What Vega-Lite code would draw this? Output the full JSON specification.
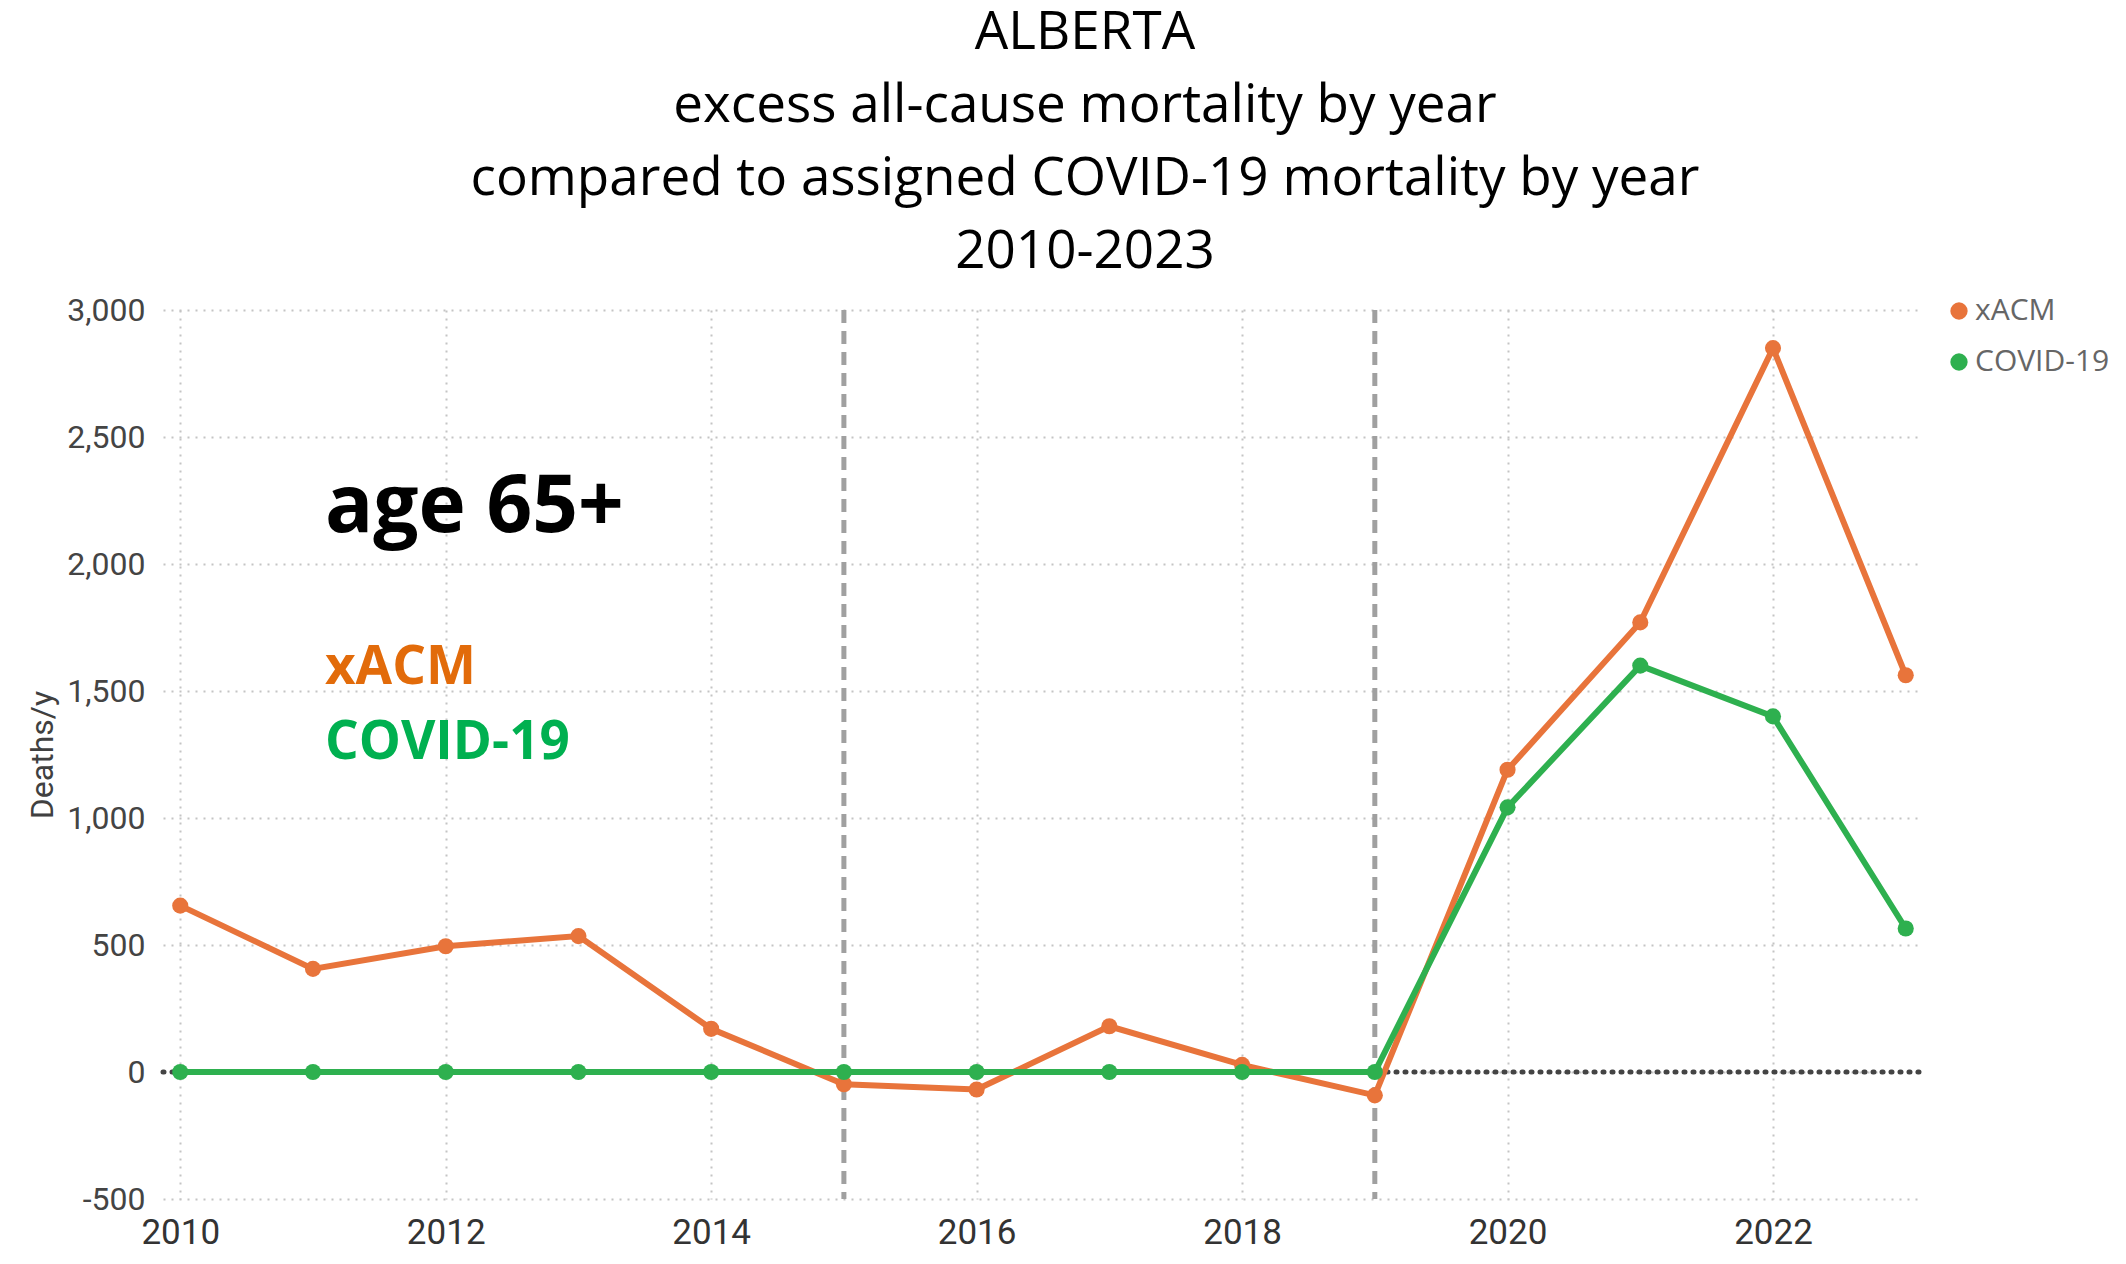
{
  "$schema": "https://vega.github.io/schema/vega-lite/v6.json",
  "description": "Alberta, age 65+: excess all-cause mortality vs assigned COVID-19 mortality by year.",
  "width": 1756,
  "height": 889,
  "autosize": {"type": "none"},
  "padding": {"left": 163, "top": 310, "right": 207, "bottom": 65},
  "background": "white",
  "title": {
    "text": ["ALBERTA", "excess all-cause mortality by year", "compared to assigned COVID-19 mortality by year", "2010-2023"],
    "font": "Open Sans",
    "fontSize": 53,
    "fontWeight": "normal",
    "color": "black",
    "lineHeight": 73,
    "anchor": "middle",
    "dx": 44,
    "offset": 15
  },
  "config": {
    "view": {"stroke": null},
    "axis": {
      "domain": false,
      "ticks": false,
      "grid": true,
      "gridColor": "#c4c4c4",
      "gridDash": [2, 6],
      "gridWidth": 2
    }
  },
  "datasets": {
    "mortality": [
      {"year": 2010, "series": "xACM", "value": 655},
      {"year": 2011, "series": "xACM", "value": 406},
      {"year": 2012, "series": "xACM", "value": 495},
      {"year": 2013, "series": "xACM", "value": 535},
      {"year": 2014, "series": "xACM", "value": 170},
      {"year": 2015, "series": "xACM", "value": -48},
      {"year": 2016, "series": "xACM", "value": -69},
      {"year": 2017, "series": "xACM", "value": 180},
      {"year": 2018, "series": "xACM", "value": 28},
      {"year": 2019, "series": "xACM", "value": -92},
      {"year": 2020, "series": "xACM", "value": 1190},
      {"year": 2021, "series": "xACM", "value": 1770},
      {"year": 2022, "series": "xACM", "value": 2850},
      {"year": 2023, "series": "xACM", "value": 1562},
      {"year": 2010, "series": "COVID-19", "value": 0},
      {"year": 2011, "series": "COVID-19", "value": 0},
      {"year": 2012, "series": "COVID-19", "value": 0},
      {"year": 2013, "series": "COVID-19", "value": 0},
      {"year": 2014, "series": "COVID-19", "value": 0},
      {"year": 2015, "series": "COVID-19", "value": 0},
      {"year": 2016, "series": "COVID-19", "value": 0},
      {"year": 2017, "series": "COVID-19", "value": 0},
      {"year": 2018, "series": "COVID-19", "value": 0},
      {"year": 2019, "series": "COVID-19", "value": 0},
      {"year": 2020, "series": "COVID-19", "value": 1042},
      {"year": 2021, "series": "COVID-19", "value": 1600},
      {"year": 2022, "series": "COVID-19", "value": 1400},
      {"year": 2023, "series": "COVID-19", "value": 565}
    ]
  },
  "layer": [
    {
      "data": {"values": [{"year": 2015}, {"year": 2019}]},
      "mark": {"type": "rule", "color": "#a0a0a0", "strokeWidth": 5, "strokeDash": [13, 8]},
      "encoding": {
        "x": {
          "field": "year",
          "type": "quantitative",
          "title": null,
          "scale": {"domain": [2009.87, 2023.1], "nice": false, "zero": false},
          "axis": {
            "values": [2010, 2012, 2014, 2016, 2018, 2020, 2022],
            "format": "d",
            "labelFont": "Roboto",
            "labelFontSize": 35,
            "labelColor": "#333333",
            "labelPadding": 16
          }
        }
      }
    },
    {
      "data": {"values": [{"value": 0}]},
      "mark": {"type": "rule", "color": "#444444", "strokeWidth": 5, "strokeDash": [1, 8], "strokeCap": "round"},
      "encoding": {
        "y": {
          "field": "value",
          "type": "quantitative",
          "title": "Deaths/y",
          "scale": {"domain": [-500, 3000], "nice": false, "zero": false},
          "axis": {
            "values": [-500, 0, 500, 1000, 1500, 2000, 2500, 3000],
            "labelExpr": "replace(format(datum.value, ',.0f'), '\u2212', '-')",
            "labelFont": "Roboto",
            "labelFontSize": 32,
            "labelColor": "#444444",
            "labelPadding": 18,
            "titleFont": "Roboto",
            "titleFontSize": 32,
            "titleFontWeight": "normal",
            "titleColor": "#404040",
            "titlePadding": 7
          }
        }
      }
    },
    {
      "data": {"name": "mortality"},
      "transform": [{"filter": "datum.series == 'xACM'"}],
      "mark": {"type": "line", "strokeWidth": 6, "color": "#e8743b"},
      "encoding": {
        "x": {"field": "year", "type": "quantitative", "title": null},
        "y": {"field": "value", "type": "quantitative", "title": "Deaths/y"}
      }
    },
    {
      "data": {"name": "mortality"},
      "transform": [{"filter": "datum.series == 'COVID-19'"}],
      "mark": {"type": "line", "strokeWidth": 6, "color": "#2eb04f"},
      "encoding": {
        "x": {"field": "year", "type": "quantitative", "title": null},
        "y": {"field": "value", "type": "quantitative", "title": "Deaths/y"}
      }
    },
    {
      "data": {"name": "mortality"},
      "mark": {"type": "point", "filled": true, "size": 260, "opacity": 1},
      "encoding": {
        "x": {"field": "year", "type": "quantitative", "title": null},
        "y": {"field": "value", "type": "quantitative", "title": "Deaths/y"},
        "color": {
          "field": "series",
          "type": "nominal",
          "sort": ["xACM", "COVID-19"],
          "scale": {"domain": ["xACM", "COVID-19"], "range": ["#e8743b", "#2eb04f"]},
          "legend": {
            "title": null,
            "orient": "none",
            "legendX": 1781,
            "legendY": -14,
            "symbolType": "circle",
            "symbolSize": 300,
            "symbolStrokeWidth": 0,
            "labelFont": "Open Sans",
            "labelFontSize": 30,
            "labelColor": "#666666",
            "labelOffset": 1,
            "rowPadding": 21
          }
        }
      }
    },
    {
      "data": {"values": [{"year": 2011.09, "value": 2125, "label": "age 65+"}]},
      "mark": {"type": "text", "align": "left", "baseline": "alphabetic", "font": "Open Sans", "fontWeight": "bold", "fontSize": 80, "color": "black"},
      "encoding": {
        "x": {"field": "year", "type": "quantitative", "title": null},
        "y": {"field": "value", "type": "quantitative", "title": "Deaths/y"},
        "text": {"field": "label"}
      }
    },
    {
      "data": {"values": [{"year": 2011.09, "value": 1527, "label": "xACM"}]},
      "mark": {"type": "text", "align": "left", "baseline": "alphabetic", "font": "Open Sans", "fontWeight": "bold", "fontSize": 53, "color": "#e26b0a"},
      "encoding": {
        "x": {"field": "year", "type": "quantitative", "title": null},
        "y": {"field": "value", "type": "quantitative", "title": "Deaths/y"},
        "text": {"field": "label"}
      }
    },
    {
      "data": {"values": [{"year": 2011.09, "value": 1232, "label": "COVID-19"}]},
      "mark": {"type": "text", "align": "left", "baseline": "alphabetic", "font": "Open Sans", "fontWeight": "bold", "fontSize": 53, "color": "#00b050"},
      "encoding": {
        "x": {"field": "year", "type": "quantitative", "title": null},
        "y": {"field": "value", "type": "quantitative", "title": "Deaths/y"},
        "text": {"field": "label"}
      }
    }
  ]
}
